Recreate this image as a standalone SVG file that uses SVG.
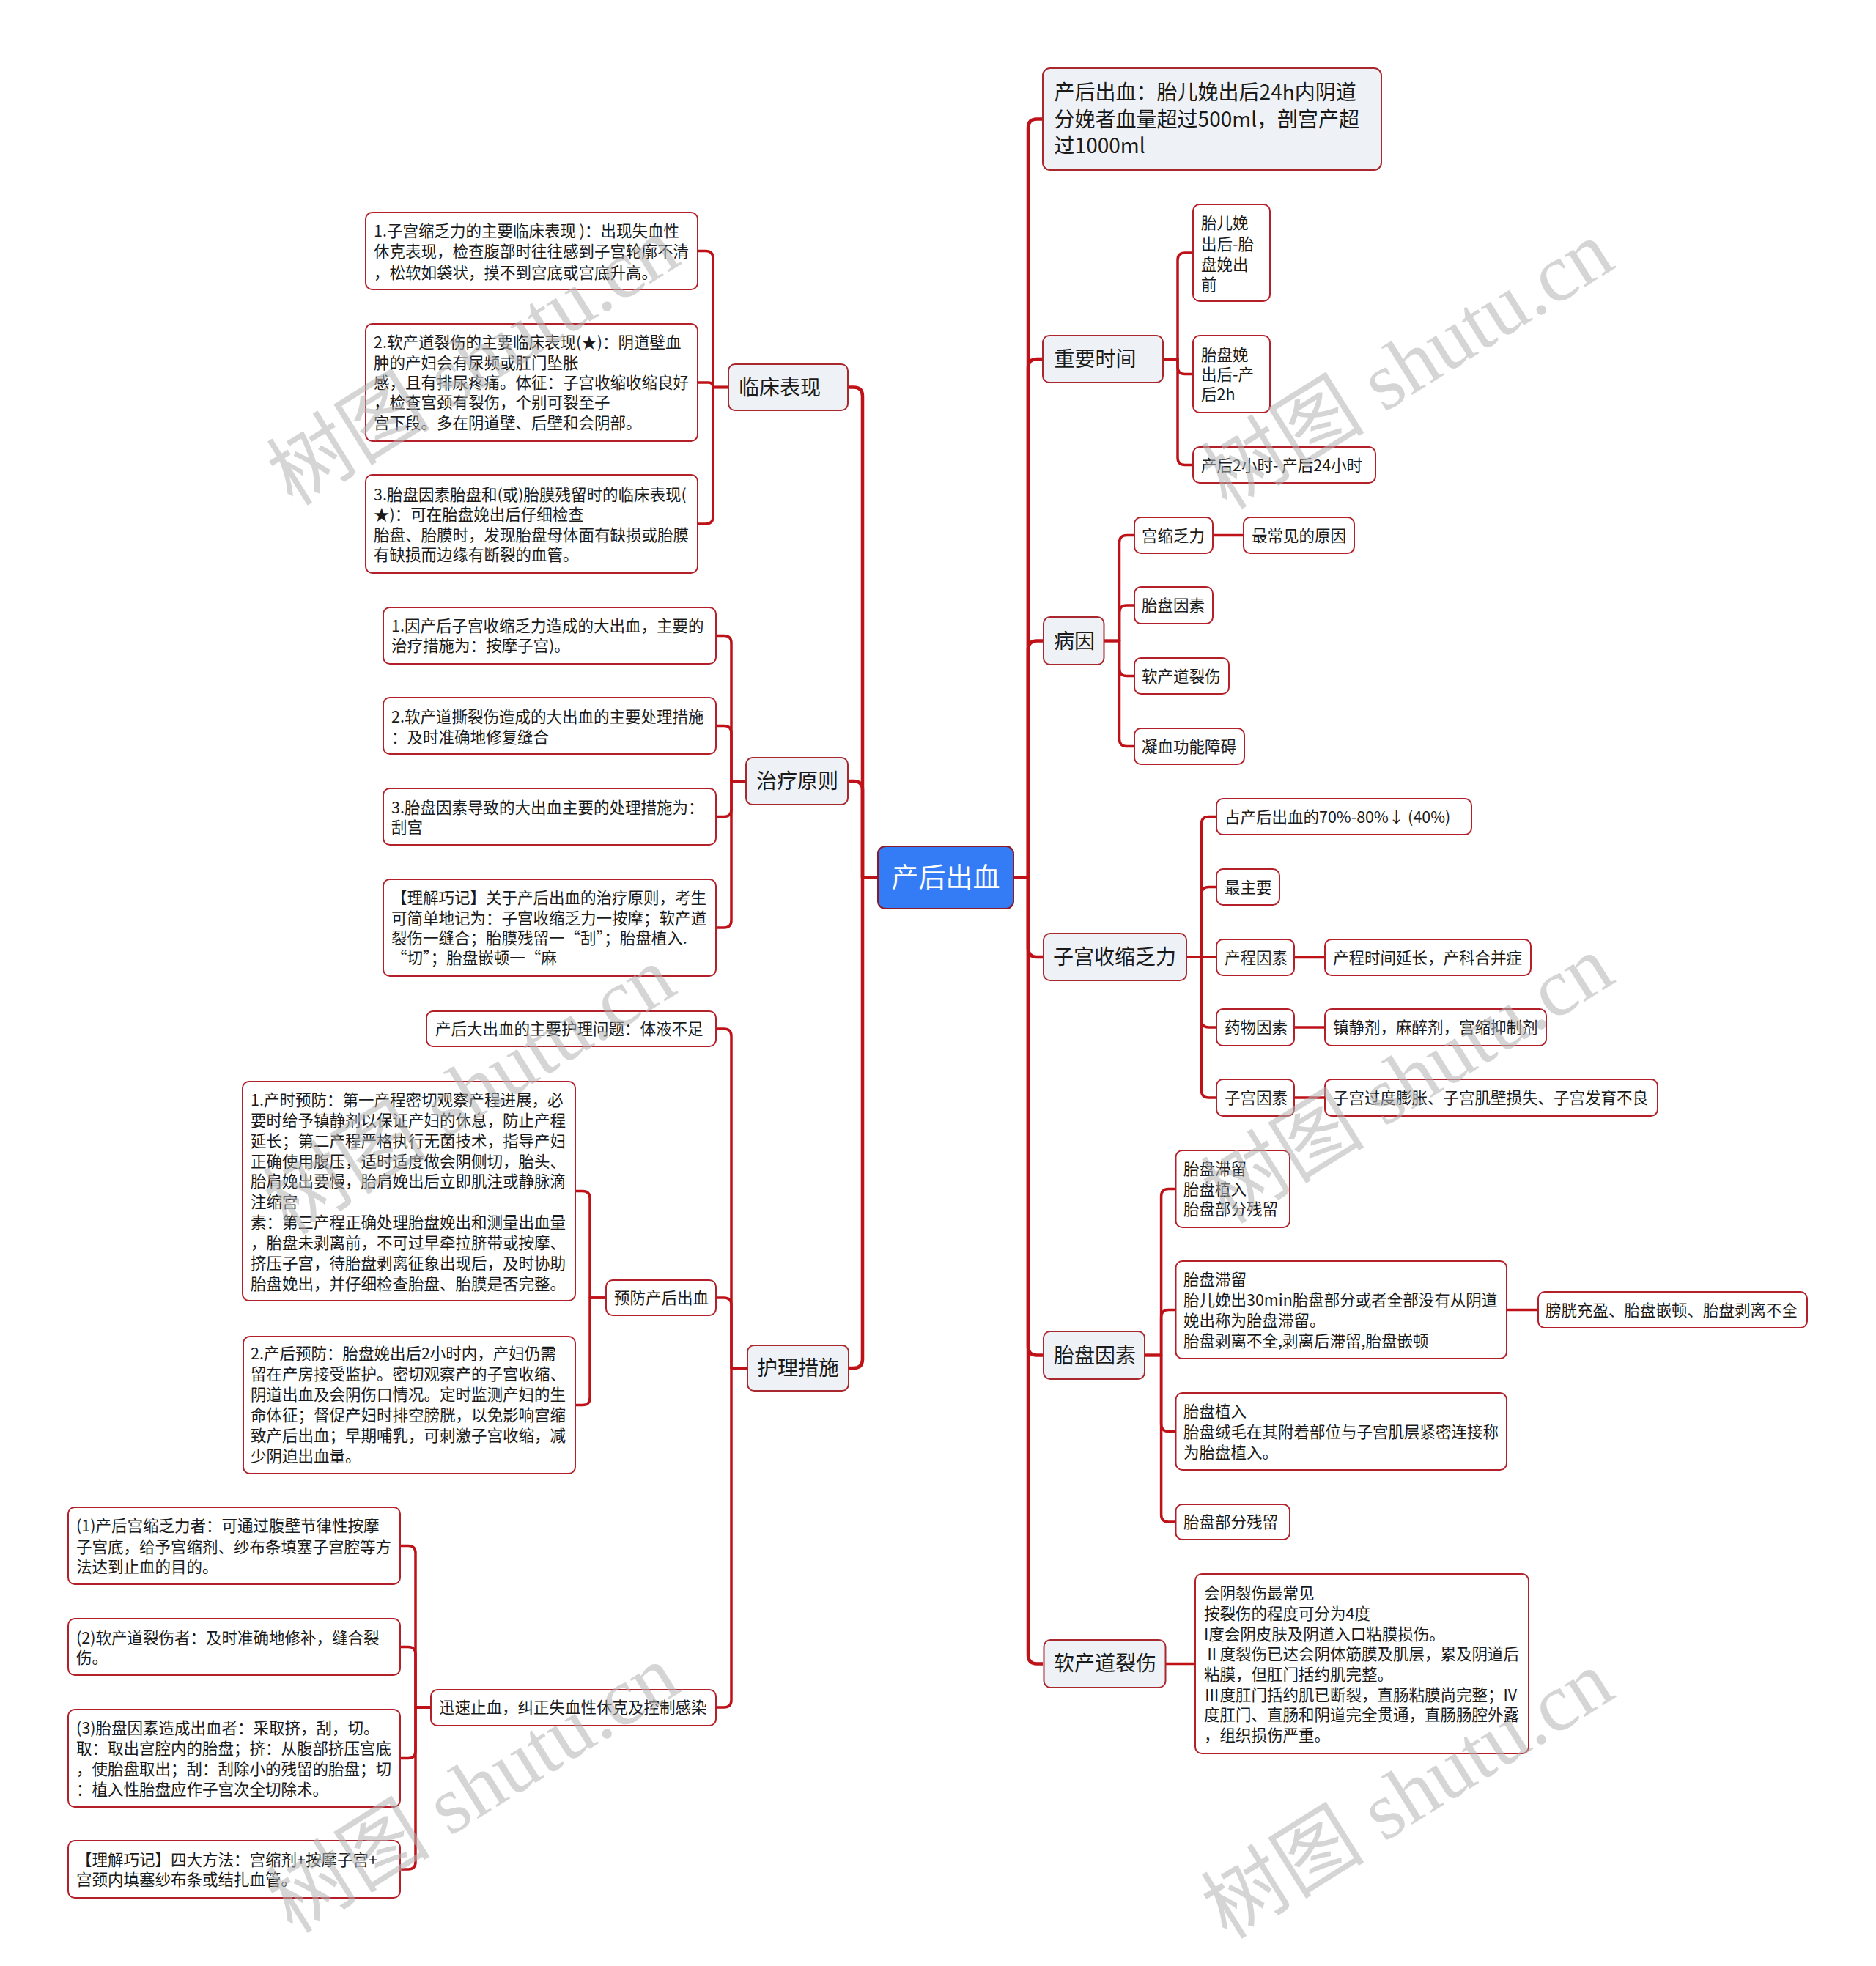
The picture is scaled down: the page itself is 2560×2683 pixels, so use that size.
<svg xmlns="http://www.w3.org/2000/svg" width="2560" height="2683" viewBox="0 0 2560 2683">
<style>
text{font-family:"Noto Sans CJK SC","Liberation Sans",sans-serif;fill:#1a1a1a}
.t{font-size:21.5px}
.m{font-size:28px}
.root{font-size:37px;fill:#ffffff}
.leaf{fill:#ffffff;stroke:#b3202a;stroke-width:2}
.main{fill:#eef1f5;stroke:#a8282e;stroke-width:2}
.rootbox{fill:#347cf6;stroke:#8b1a2b;stroke-width:2}
.c1{fill:none;stroke:#be1218;stroke-width:4.5;stroke-linejoin:round}
.c2{fill:none;stroke:#be1218;stroke-width:3.5;stroke-linejoin:round}
.wm{font-family:"Liberation Serif","Noto Sans CJK SC",serif;font-size:112px;fill:#b4b4b4;opacity:0.55}
</style>
<rect x="0" y="0" width="2560" height="2683" fill="#ffffff"/>
<g id="connectors">
<path class="c1" d="M1383,1197.5 H1403 V174.5 Q1403,162.5 1415,162.5 H1423"/>
<path class="c1" d="M1383,1197.5 H1403 V502 Q1403,490 1415,490 H1423"/>
<path class="c1" d="M1383,1197.5 H1403 V886.5 Q1403,874.5 1415,874.5 H1423"/>
<path class="c1" d="M1383,1197.5 H1403 V1294 Q1403,1306 1415,1306 H1423"/>
<path class="c1" d="M1383,1197.5 H1403 V1837.5 Q1403,1849.5 1415,1849.5 H1423"/>
<path class="c1" d="M1383,1197.5 H1403 V2258.5 Q1403,2270.5 1415,2270.5 H1423"/>
<path class="c1" d="M1198,1197.5 H1177 V540.5 Q1177,528.5 1165,528.5 H1157"/>
<path class="c1" d="M1198,1197.5 H1177 V1078 Q1177,1066 1165,1066 H1157"/>
<path class="c1" d="M1198,1197.5 H1177 V1855 Q1177,1867 1165,1867 H1157"/>
<path class="c2" d="M1587,490 H1607 V355 Q1607,345 1617,345 H1628"/>
<path class="c2" d="M1587,490 H1607 V500.5 Q1607,510.5 1617,510.5 H1628"/>
<path class="c2" d="M1587,490 H1607 V624.5 Q1607,634.5 1617,634.5 H1628"/>
<path class="c2" d="M1506.5,874.5 H1527.5 V740.5 Q1527.5,730.5 1537.5,730.5 H1548"/>
<path class="c2" d="M1506.5,874.5 H1527.5 V836 Q1527.5,826 1537.5,826 H1548"/>
<path class="c2" d="M1506.5,874.5 H1527.5 V912.5 Q1527.5,922.5 1537.5,922.5 H1548"/>
<path class="c2" d="M1506.5,874.5 H1527.5 V1008.5 Q1527.5,1018.5 1537.5,1018.5 H1548"/>
<path class="c2" d="M1655,730.5 H1697"/>
<path class="c2" d="M1619,1306 H1639.5 V1124.5 Q1639.5,1114.5 1649.5,1114.5 H1660"/>
<path class="c2" d="M1619,1306 H1639.5 V1220.5 Q1639.5,1210.5 1649.5,1210.5 H1660"/>
<path class="c2" d="M1619,1306 H1660"/>
<path class="c2" d="M1619,1306 H1639.5 V1392 Q1639.5,1402 1649.5,1402 H1660"/>
<path class="c2" d="M1619,1306 H1639.5 V1488 Q1639.5,1498 1649.5,1498 H1660"/>
<path class="c2" d="M1766,1306.5 H1808"/>
<path class="c2" d="M1766,1402 H1808"/>
<path class="c2" d="M1766,1498 H1808"/>
<path class="c2" d="M1562,1849.5 H1584.6 V1632.5 Q1584.6,1622.5 1594.6,1622.5 H1604.5"/>
<path class="c2" d="M1562,1849.5 H1584.6 V1797.5 Q1584.6,1787.5 1594.6,1787.5 H1604.5"/>
<path class="c2" d="M1562,1849.5 H1584.6 V1943.5 Q1584.6,1953.5 1594.6,1953.5 H1604.5"/>
<path class="c2" d="M1562,1849.5 H1584.6 V2067 Q1584.6,2077 1594.6,2077 H1604.5"/>
<path class="c2" d="M2056,1787.5 H2099"/>
<path class="c2" d="M1590.6,2270.5 H1631"/>
<path class="c2" d="M994,528.5 H973 V352.5 Q973,342.5 963,342.5 H952"/>
<path class="c2" d="M994,528.5 H973 Q973,522 966.5,522 H952"/>
<path class="c2" d="M994,528.5 H973 V705 Q973,715 963,715 H952"/>
<path class="c2" d="M1018,1066 H998 V877.5 Q998,867.5 988,867.5 H977"/>
<path class="c2" d="M1018,1066 H998 V1000.5 Q998,990.5 988,990.5 H977"/>
<path class="c2" d="M1018,1066 H998 V1104.5 Q998,1114.5 988,1114.5 H977"/>
<path class="c2" d="M1018,1066 H998 V1256 Q998,1266 988,1266 H977"/>
<path class="c2" d="M1020,1867 H998 V1414 Q998,1404 988,1404 H977"/>
<path class="c2" d="M1020,1867 H998 V1781 Q998,1771 988,1771 H977"/>
<path class="c2" d="M1020,1867 H998 V2320 Q998,2330 988,2330 H977"/>
<path class="c2" d="M827,1771 H805 V1635.5 Q805,1625.5 795,1625.5 H785"/>
<path class="c2" d="M827,1771 H805 V1907.5 Q805,1917.5 795,1917.5 H785"/>
<path class="c2" d="M588,2330 H567 V2119.5 Q567,2109.5 557,2109.5 H546"/>
<path class="c2" d="M588,2330 H567 V2257.5 Q567,2247.5 557,2247.5 H546"/>
<path class="c2" d="M588,2330 H567 V2389.5 Q567,2399.5 557,2399.5 H546"/>
<path class="c2" d="M588,2330 H567 V2541 Q567,2551 557,2551 H546"/>
</g>
<g id="root"><rect class="rootbox" x="1198" y="1155" width="185" height="85" rx="10"/><text class="root" x="1290.5" y="1211" text-anchor="middle">产后出血</text></g>
<g id="n-linchuang"><rect class="main" x="994" y="497" width="163" height="63" rx="9"/><text class="m" x="1008" y="538.5">临床表现</text></g>
<g id="n-lc1"><rect class="leaf" x="499" y="290" width="453" height="105" rx="9"/>
<text class="t" x="510" y="323">1.子宫缩乏力的主要临床表现 )：出现失血性</text>
<text class="t" x="510" y="351">休克表现，检查腹部时往往感到子宫轮廓不清</text>
<text class="t" x="510" y="380">，松软如袋状，摸不到宫底或宫底升高。</text></g>
<g id="n-lc2"><rect class="leaf" x="499" y="442" width="453" height="160" rx="9"/>
<text class="t" x="510" y="475">2.软产道裂伤的主要临床表现(★)：阴道壁血</text>
<text class="t" x="510" y="503">肿的产妇会有尿频或肛门坠胀</text>
<text class="t" x="510" y="530">感，且有排尿疼痛。体征：子宫收缩收缩良好</text>
<text class="t" x="510" y="557">，检查宫颈有裂伤，个别可裂至子</text>
<text class="t" x="510" y="585">宫下段。多在阴道壁、后壁和会阴部。</text></g>
<g id="n-lc3"><rect class="leaf" x="499" y="648" width="453" height="134" rx="9"/>
<text class="t" x="510" y="683">3.胎盘因素胎盘和(或)胎膜残留时的临床表现(</text>
<text class="t" x="510" y="710">★)：可在胎盘娩出后仔细检查</text>
<text class="t" x="510" y="738">胎盘、胎膜时，发现胎盘母体面有缺损或胎膜</text>
<text class="t" x="510" y="765">有缺损而边缘有断裂的血管。</text></g>
<g id="n-zhiliao"><rect class="main" x="1018" y="1034" width="139" height="64" rx="9"/><text class="m" x="1032" y="1076">治疗原则</text></g>
<g id="n-zl1"><rect class="leaf" x="523" y="829" width="454" height="77" rx="9"/>
<text class="t" x="534" y="862">1.因产后子宫收缩乏力造成的大出血，主要的</text>
<text class="t" x="534" y="889">治疗措施为：按摩子宫)。</text></g>
<g id="n-zl2"><rect class="leaf" x="523" y="952" width="454" height="77" rx="9"/>
<text class="t" x="534" y="986">2.软产道撕裂伤造成的大出血的主要处理措施</text>
<text class="t" x="534" y="1014">：及时准确地修复缝合</text></g>
<g id="n-zl3"><rect class="leaf" x="523" y="1076" width="454" height="77" rx="9"/>
<text class="t" x="534" y="1110">3.胎盘因素导致的大出血主要的处理措施为：</text>
<text class="t" x="534" y="1137">刮宫</text></g>
<g id="n-zl4"><rect class="leaf" x="523" y="1200" width="454" height="132" rx="9"/>
<text class="t" x="534" y="1233">【理解巧记】关于产后出血的治疗原则，考生</text>
<text class="t" x="534" y="1261">可简单地记为：子宫收缩乏力一按摩；软产道</text>
<text class="t" x="534" y="1288">裂伤一缝合；胎膜残留一“刮”；胎盘植入.</text>
<text class="t" x="534" y="1315"> “切”；胎盘嵌顿一“麻</text></g>
<g id="n-huli"><rect class="main" x="1020" y="1836" width="138" height="62" rx="9"/><text class="m" x="1033" y="1877">护理措施</text></g>
<g id="n-hl1"><rect class="leaf" x="582" y="1380" width="395" height="48" rx="9"/><text class="t" x="594" y="1412">产后大出血的主要护理问题：体液不足</text></g>
<g id="n-yufang"><rect class="leaf" x="827" y="1747" width="150" height="48" rx="9"/><text class="t" x="838" y="1779">预防产后出血</text></g>
<g id="n-yf1"><rect class="leaf" x="331" y="1476" width="454" height="299" rx="9"/>
<text class="t" x="342" y="1509">1.产时预防：第一产程密切观察产程进展，必</text>
<text class="t" x="342" y="1536.5">要时给予镇静剂以保证产妇的休息，防止产程</text>
<text class="t" x="342" y="1564.5">延长；第二产程严格执行无菌技术，指导产妇</text>
<text class="t" x="342" y="1592.5">正确使用腹压，适时适度做会阴侧切，胎头、</text>
<text class="t" x="342" y="1620">胎肩娩出要慢，胎肩娩出后立即肌注或静脉滴</text>
<text class="t" x="342" y="1648">注缩宫</text>
<text class="t" x="342" y="1676">素：第三产程正确处理胎盘娩出和测量出血量</text>
<text class="t" x="342" y="1704">，胎盘未剥离前，不可过早牵拉脐带或按摩、</text>
<text class="t" x="342" y="1731.5">挤压子宫，待胎盘剥离征象出现后，及时协助</text>
<text class="t" x="342" y="1759.5">胎盘娩出，并仔细检查胎盘、胎膜是否完整。</text></g>
<g id="n-yf2"><rect class="leaf" x="332" y="1824" width="453" height="187" rx="9"/>
<text class="t" x="342" y="1855">2.产后预防：胎盘娩出后2小时内，产妇仍需</text>
<text class="t" x="342" y="1883">留在产房接受监护。密切观察产的子宫收缩、</text>
<text class="t" x="342" y="1911">阴道出血及会阴伤口情况。定时监测产妇的生</text>
<text class="t" x="342" y="1939">命体征；督促产妇时排空膀胱，以免影响宫缩</text>
<text class="t" x="342" y="1967">致产后出血；早期哺乳，可刺激子宫收缩，减</text>
<text class="t" x="342" y="1995">少阴迫出血量。</text></g>
<g id="n-xunsu"><rect class="leaf" x="588" y="2306" width="389" height="49" rx="9"/><text class="t" x="599" y="2338">迅速止血，纠正失血性休克及控制感染</text></g>
<g id="n-xs1"><rect class="leaf" x="93" y="2057" width="453" height="105" rx="9"/>
<text class="t" x="104" y="2090">(1)产后宫缩乏力者：可通过腹壁节律性按摩</text>
<text class="t" x="104" y="2119">子宫底，给予宫缩剂、纱布条填塞子宫腔等方</text>
<text class="t" x="104" y="2146">法达到止血的目的。</text></g>
<g id="n-xs2"><rect class="leaf" x="93" y="2209" width="453" height="77" rx="9"/>
<text class="t" x="104" y="2242.5">(2)软产道裂伤者：及时准确地修补，缝合裂</text>
<text class="t" x="104" y="2270">伤。</text></g>
<g id="n-xs3"><rect class="leaf" x="93" y="2333" width="453" height="133" rx="9"/>
<text class="t" x="104" y="2366">(3)胎盘因素造成出血者：采取挤，刮，切。</text>
<text class="t" x="104" y="2394">取：取出宫腔内的胎盘；挤：从腹部挤压宫底</text>
<text class="t" x="104" y="2422">，使胎盘取出；刮：刮除小的残留的胎盘；切</text>
<text class="t" x="104" y="2450">：植入性胎盘应作子宫次全切除术。</text></g>
<g id="n-xs4"><rect class="leaf" x="93" y="2512" width="453" height="78" rx="9"/>
<text class="t" x="104" y="2546">【理解巧记】四大方法：宫缩剂+按摩子宫+</text>
<text class="t" x="104" y="2573">宫颈内填塞纱布条或结扎血管。</text></g>
<g id="n-def"><rect class="main" x="1423" y="93" width="462" height="139" rx="10"/>
<text class="m" x="1438.6" y="136">产后出血：胎儿娩出后24h内阴道</text>
<text class="m" x="1438.6" y="172.5">分娩者血量超过500ml，剖宫产超</text>
<text class="m" x="1438.6" y="209">过1000ml</text></g>
<g id="n-time"><rect class="main" x="1423" y="458" width="164" height="64" rx="9"/><text class="m" x="1438.6" y="500">重要时间</text></g>
<g id="n-t1"><rect class="leaf" x="1628" y="279" width="105" height="132" rx="9"/>
<text class="t" x="1639" y="312">胎儿娩</text><text class="t" x="1639" y="340.5">出后-胎</text><text class="t" x="1639" y="368.5">盘娩出</text><text class="t" x="1639" y="396">前</text></g>
<g id="n-t2"><rect class="leaf" x="1628" y="458" width="105" height="105" rx="9"/>
<text class="t" x="1639" y="492">胎盘娩</text><text class="t" x="1639" y="518.5">出后-产</text><text class="t" x="1639" y="546">后2h</text></g>
<g id="n-t3"><rect class="leaf" x="1628" y="610" width="249" height="49" rx="9"/><text class="t" x="1639" y="642.5">产后2小时- 产后24小时</text></g>
<g id="n-cause"><rect class="main" x="1424" y="842" width="82.5" height="65" rx="9"/><text class="m" x="1438" y="884.5">病因</text></g>
<g id="n-c1"><rect class="leaf" x="1548" y="706" width="107" height="49" rx="9"/><text class="t" x="1558" y="738.5">宫缩乏力</text></g>
<g id="n-c1a"><rect class="leaf" x="1697" y="706" width="151" height="49" rx="9"/><text class="t" x="1708" y="738.5">最常见的原因</text></g>
<g id="n-c2"><rect class="leaf" x="1548" y="801" width="107" height="50" rx="9"/><text class="t" x="1558" y="834">胎盘因素</text></g>
<g id="n-c3"><rect class="leaf" x="1548" y="898" width="129" height="49" rx="9"/><text class="t" x="1558" y="930.5">软产道裂伤</text></g>
<g id="n-c4"><rect class="leaf" x="1548" y="994" width="150" height="49" rx="9"/><text class="t" x="1558" y="1026.5">凝血功能障碍</text></g>
<g id="n-uterus"><rect class="main" x="1424" y="1274" width="195" height="64" rx="9"/><text class="m" x="1437" y="1316">子宫收缩乏力</text></g>
<g id="n-u1"><rect class="leaf" x="1660" y="1090" width="348" height="49" rx="9"/><text class="t" x="1671" y="1122.5">占产后出血的70%-80%↓ (40%)</text></g>
<g id="n-u2"><rect class="leaf" x="1660" y="1186" width="86" height="49" rx="9"/><text class="t" x="1671" y="1218.5">最主要</text></g>
<g id="n-u3"><rect class="leaf" x="1660" y="1282" width="106" height="49" rx="9"/><text class="t" x="1671" y="1314.5">产程因素</text></g>
<g id="n-u3a"><rect class="leaf" x="1808" y="1282" width="281" height="49" rx="9"/><text class="t" x="1819" y="1314.5">产程时间延长，产科合并症</text></g>
<g id="n-u4"><rect class="leaf" x="1660" y="1377" width="106" height="50" rx="9"/><text class="t" x="1671" y="1410">药物因素</text></g>
<g id="n-u4a"><rect class="leaf" x="1808" y="1377" width="302" height="50" rx="9"/><text class="t" x="1819" y="1410">镇静剂，麻醉剂，宫缩抑制剂</text></g>
<g id="n-u5"><rect class="leaf" x="1660" y="1473" width="106" height="50" rx="9"/><text class="t" x="1671" y="1506">子宫因素</text></g>
<g id="n-u5a"><rect class="leaf" x="1808" y="1473" width="454" height="50" rx="9"/><text class="t" x="1819" y="1506">子宫过度膨胀、子宫肌壁损失、子宫发育不良</text></g>
<g id="n-placenta"><rect class="main" x="1424" y="1817" width="138" height="65" rx="9"/><text class="m" x="1438" y="1859.5">胎盘因素</text></g>
<g id="n-p1"><rect class="leaf" x="1604.5" y="1570" width="155.5" height="105" rx="9"/>
<text class="t" x="1615" y="1603">胎盘滞留</text><text class="t" x="1615" y="1631">胎盘植入</text><text class="t" x="1615" y="1658">胎盘部分残留</text></g>
<g id="n-p2"><rect class="leaf" x="1604.5" y="1721" width="451.5" height="133" rx="9"/>
<text class="t" x="1615" y="1754"> 胎盘滞留</text>
<text class="t" x="1615" y="1782">胎儿娩出30min胎盘部分或者全部没有从阴道</text>
<text class="t" x="1615" y="1810">娩出称为胎盘滞留。</text>
<text class="t" x="1615" y="1838">胎盘剥离不全,剥离后滞留,胎盘嵌顿</text></g>
<g id="n-p2a"><rect class="leaf" x="2099" y="1763" width="367" height="49" rx="9"/><text class="t" x="2109" y="1795.5">膀胱充盈、胎盘嵌顿、胎盘剥离不全</text></g>
<g id="n-p3"><rect class="leaf" x="1604.5" y="1901" width="451.5" height="105" rx="9"/>
<text class="t" x="1615" y="1934">胎盘植入</text>
<text class="t" x="1615" y="1962">胎盘绒毛在其附着部位与子宫肌层紧密连接称</text>
<text class="t" x="1615" y="1990">为胎盘植入。</text></g>
<g id="n-p4"><rect class="leaf" x="1604.5" y="2053" width="155.5" height="48" rx="9"/><text class="t" x="1615" y="2085">胎盘部分残留</text></g>
<g id="n-birth"><rect class="main" x="1424.5" y="2238" width="166" height="65" rx="9"/><text class="m" x="1438" y="2280">软产道裂伤</text></g>
<g id="n-b1"><rect class="leaf" x="1631" y="2148" width="455" height="245" rx="9"/>
<text class="t" x="1643" y="2182">会阴裂伤最常见</text>
<text class="t" x="1643" y="2210">按裂伤的程度可分为4度</text>
<text class="t" x="1643" y="2237.5">I度会阴皮肤及阴道入口粘膜损伤。</text>
<text class="t" x="1643" y="2265">Ⅱ度裂伤已达会阴体筋膜及肌层，累及阴道后</text>
<text class="t" x="1643" y="2293">粘膜，但肛门括约肌完整。</text>
<text class="t" x="1643" y="2320.5">Ⅲ度肛门括约肌已断裂，直肠粘膜尚完整；IV</text>
<text class="t" x="1643" y="2348">度肛门、直肠和阴道完全贯通，直肠肠腔外露</text>
<text class="t" x="1643" y="2376">，组织损伤严重。</text></g>
<g id="watermarks">
<text class="wm" x="650" y="530" text-anchor="middle" transform="rotate(-32 650 500)">树图 shutu.cn</text>
<text class="wm" x="1925" y="535" text-anchor="middle" transform="rotate(-32 1925 505)">树图 shutu.cn</text>
<text class="wm" x="645" y="1525" text-anchor="middle" transform="rotate(-32 645 1495)">树图 shutu.cn</text>
<text class="wm" x="1925" y="1510" text-anchor="middle" transform="rotate(-32 1925 1480)">树图 shutu.cn</text>
<text class="wm" x="650" y="2478" text-anchor="middle" transform="rotate(-32 650 2448)">树图 shutu.cn</text>
<text class="wm" x="1925" y="2486" text-anchor="middle" transform="rotate(-32 1925 2456)">树图 shutu.cn</text>
</g>
</svg>
